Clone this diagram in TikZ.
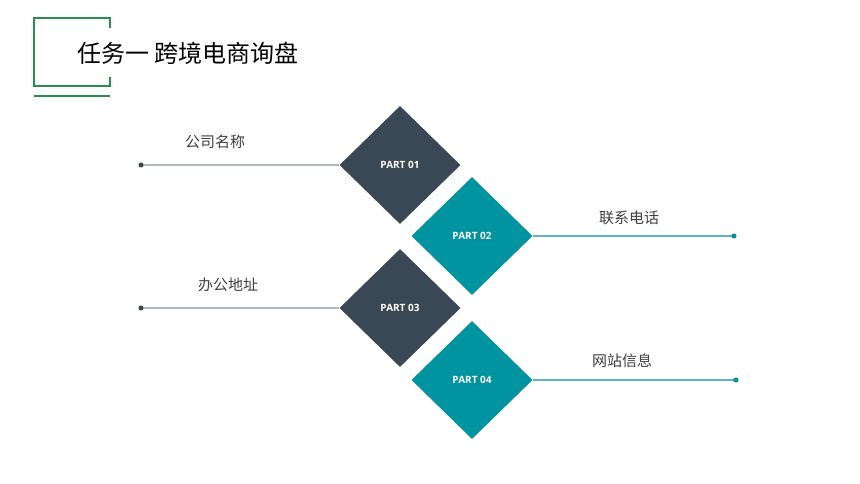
\documentclass[tikz,border=0pt]{standalone}
\usepackage{fontspec}
\setmainfont{Open Sans}
\newfontfamily\cjk{Noto Sans CJK SC}
\usepackage{xcolor}
\usetikzlibrary{shapes.geometric}

\definecolor{slatepart}{HTML}{3A4755}
\definecolor{tealpart}{HTML}{0093A0}
\definecolor{tealline}{HTML}{5DB5BD}
\definecolor{greyline}{HTML}{B3B9BF}
\definecolor{framegreen}{HTML}{2A8D50}
\definecolor{itemgrey}{HTML}{404040}

\begin{document}
\begin{tikzpicture}[x=1pt,y=-1pt,
    partbox/.style={diamond, minimum width=121pt, minimum height=118pt, inner sep=0pt,
        text=white, font=\bfseries\fontsize{10}{11}\selectfont},
    enddot/.style={circle, inner sep=0pt, minimum size=5pt},
    itemtext/.style={font=\cjk\fontsize{15}{16}\selectfont, text=itemgrey}]
        \fill[white] (0,0) rectangle (860,484);
        \useasboundingbox (0,0) rectangle (860,484);

        % title frame
        \draw[framegreen, line width=2.8pt] (110,28) -- (110,18) -- (34,18) -- (34,86) -- (110,86) -- (110,77);
        \draw[framegreen, line width=2.8pt] (34,96) -- (110,96);
        \node[anchor=west, font=\cjk\fontsize{24}{27}\selectfont] (title) at (74,53) {任务一 跨境电商询盘};

        % diamonds
        \node[partbox, fill=slatepart] (d1) at (400,165) {PART 01};
        \node[partbox, fill=tealpart] (d2) at (472,236) {PART 02};
        \node[partbox, fill=slatepart] (d3) at (400,308) {PART 03};
        \node[partbox, fill=tealpart] (d4) at (472,380) {PART 04};

        % end points
        \coordinate (p1) at (141,165);
        \coordinate (p2) at (734,236);
        \coordinate (p3) at (141,308);
        \coordinate (p4) at (736,380);

        \draw[greyline, line width=1.2pt] (p1) -- (d1.west);
        \draw[tealline, line width=1.2pt] (d2.east) -- (p2);
        \draw[greyline, line width=1.2pt] (p3) -- (d3.west);
        \draw[tealline, line width=1.2pt] (d4.east) -- (p4);
        \node[enddot, fill=slatepart] (e1) at (p1) {};
        \node[enddot, fill=tealpart] (e2) at (p2) {};
        \node[enddot, fill=slatepart] (e3) at (p3) {};
        \node[enddot, fill=tealpart] (e4) at (p4) {};

        \node[itemtext] (t1) at (215,142) {公司名称};
        \node[itemtext] (t2) at (629,218) {联系电话};
        \node[itemtext] (t3) at (228,285) {办公地址};
        \node[itemtext] (t4) at (622,361) {网站信息};

    \end{tikzpicture}
\end{document}
